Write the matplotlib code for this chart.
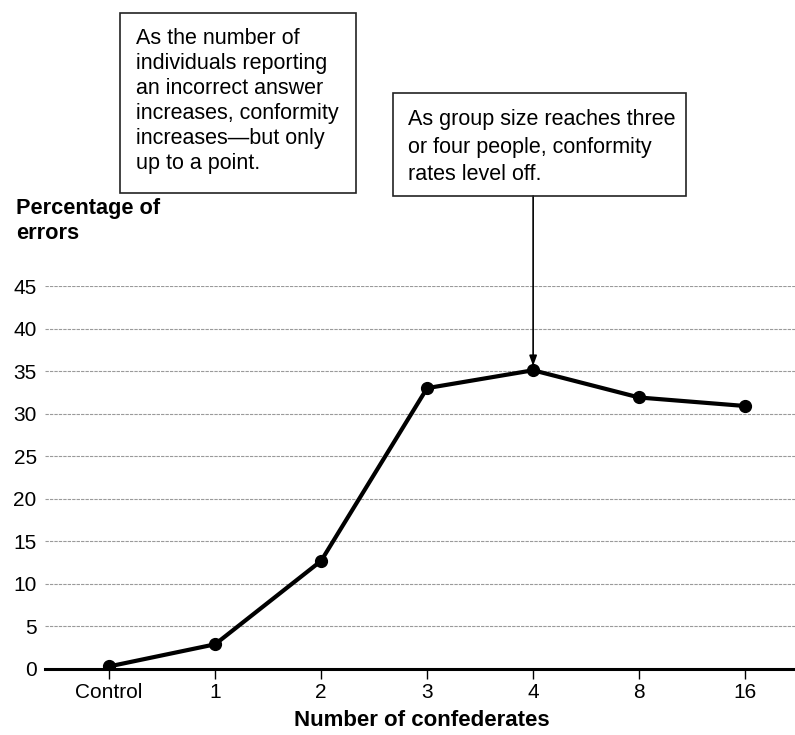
import matplotlib
matplotlib.use("Agg")
import matplotlib.pyplot as plt
from matplotlib.patches import Rectangle

plt.rcParams['font.family'] = ['Liberation Sans', 'DejaVu Sans']

categories = ["Control", "1", "2", "3", "4", "8", "16"]
errors = [0.3, 2.9, 12.7, 33.0, 35.1, 31.9, 30.9]
yticks = [0, 5, 10, 15, 20, 25, 30, 35, 40, 45]

W, H = 795, 735
fig = plt.figure(figsize=(W / 100, H / 100), dpi=100)

def fx(px):
    return px / W

def fy(py):
    return 1 - py / H

ax_left, ax_right, ax_bottom, ax_top = 45, 795, 669, 286
ax = fig.add_axes([fx(ax_left), fy(ax_bottom), fx(ax_right - ax_left), fy(ax_top) - fy(ax_bottom)])

x = list(range(len(categories)))
ax.set_xlim(-0.604, 6.47)
ax.set_ylim(0, 45)

for v in yticks[1:]:
    ax.axhline(v, color='#9a9a9a', lw=0.8, ls=(0, (3, 1)), zorder=1)

ax.plot(x, errors, color='black', lw=3.0, marker='o', markersize=8.5, zorder=3,
        solid_joinstyle='round')

for s in ['top', 'right', 'left']:
    ax.spines[s].set_visible(False)
ax.spines['bottom'].set_linewidth(2.2)
ax.spines['bottom'].set_zorder(4)

ax.set_xticks(x)
ax.set_xticklabels(categories, fontsize=15)
ax.set_yticks(yticks)
ax.set_yticklabels([str(v) for v in yticks], fontsize=15)
ax.tick_params(axis='y', length=0, pad=6)
ax.tick_params(axis='x', length=7, width=1, pad=3)

fig.text(fx(16), fy(221), "Percentage of\nerrors", fontsize=15.7, fontweight='bold',
         ha='left', va='center', linespacing=1.25)
fig.text(fx(422), fy(721), "Number of confederates", fontsize=16, fontweight='bold',
         ha='center', va='center')

# Annotation box 1
fig.add_artist(Rectangle((fx(120), fy(193)), fx(356 - 120), fy(13) - fy(193),
                         transform=fig.transFigure, fill=False, edgecolor='#222222', lw=1.2))
fig.text(fx(136), fy(101),
         "As the number of\nindividuals reporting\nan incorrect answer\nincreases, conformity\nincreases\u2014but only\nup to a point.",
         fontsize=15.5, ha='left', va='center', linespacing=1.24)

# Annotation box 2
fig.add_artist(Rectangle((fx(393), fy(196)), fx(686 - 393), fy(93) - fy(196),
                         transform=fig.transFigure, fill=False, edgecolor='#222222', lw=1.2))
fig.text(fx(408), fy(147),
         "As group size reaches three\nor four people, conformity\nrates level off.",
         fontsize=15.5, ha='left', va='center', linespacing=1.42)

ax.annotate("", xy=(x[4], errors[4] + 0.5), xycoords='data',
            xytext=(x[4], fy(196)), textcoords=('data', 'figure fraction'),
            arrowprops=dict(arrowstyle='-|>,head_length=0.6,head_width=0.22',
                            color='black', lw=1.2, shrinkA=0, shrinkB=0),
            annotation_clip=False)

fig.savefig("out.png", dpi=100)
